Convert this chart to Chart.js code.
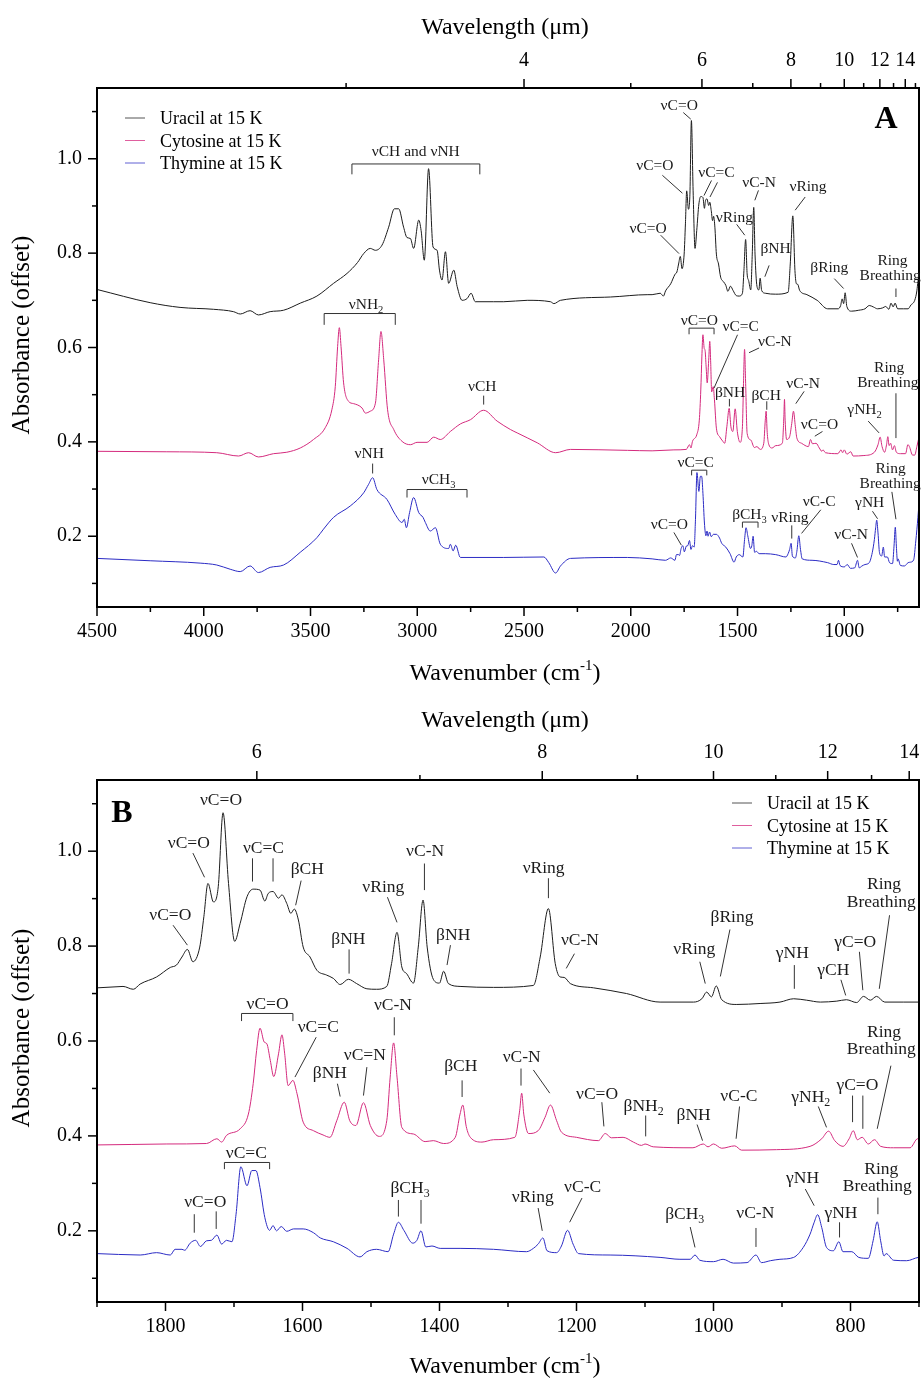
<!DOCTYPE html>
<html>
<head>
<style>
  body { margin: 0; background: #fff; }
  canvas { position: absolute; left: 0; }
  #chartA { top: 0; }
  #chartB { top: 689px; }
</style>
</head>
<body>
<canvas id="chartA" width="921" height="689"></canvas>
<canvas id="chartB" width="921" height="689"></canvas>

<script src="https://cdn.jsdelivr.net/npm/chart.js"></script>
<script>
// spectra: [wavenumber (cm-1), absorbance (offset)]
const uracil = [
  [4500,0.723],[4251,0.695],[4111,0.685],[3955,0.681],[3861,0.676],[3829,0.671],[3783,0.678],[3744,0.669],
  [3689,0.676],[3626,0.679],[3548,0.694],[3470,0.709],[3392,0.736],[3329,0.757],[3280,0.780],[3251,0.799],
  [3220,0.810],[3196,0.806],[3165,0.817],[3134,0.855],[3107,0.894],[3087,0.894],[3064,0.855],[3048,0.833],
  [3032,0.831],[3017,0.810],[2993,0.870],[2982,0.848],[2967,0.785],[2947,0.979],[2926,0.813],[2907,0.806],
  [2896,0.764],[2884,0.743],[2868,0.803],[2853,0.736],[2829,0.764],[2813,0.729],[2790,0.700],[2766,0.704],
  [2748,0.715],[2728,0.697],[2642,0.697],[2595,0.697],[2485,0.700],[2376,0.697],[2360,0.693],[2329,0.700],
  [2095,0.707],[1920,0.712],
  [1900,0.712],[1862,0.715],[1847,0.709],[1837,0.720],[1813,0.735],[1793,0.755],[1784,0.760],[1776,0.777],
  [1768,0.793],[1760,0.767],[1750,0.798],[1744,0.862],[1738,0.932],[1730,0.893],[1723,0.925],[1716,1.081],
  [1708,0.932],[1699,0.810],[1691,0.848],[1681,0.904],[1672,0.920],[1662,0.918],[1655,0.895],[1650,0.911],
  [1643,0.915],[1635,0.901],[1630,0.908],[1623,0.890],[1617,0.869],[1612,0.878],[1606,0.855],[1599,0.798],
  [1589,0.777],[1579,0.749],[1565,0.739],[1555,0.732],[1545,0.719],[1533,0.730],[1521,0.721],[1506,0.710],
  [1492,0.709],[1477,0.715],[1470,0.763],[1462,0.829],[1455,0.756],[1448,0.742],[1438,0.722],[1431,0.798],
  [1424,0.897],[1418,0.798],[1409,0.730],[1400,0.722],[1394,0.747],[1387,0.721],[1370,0.715],[1321,0.713],
  [1263,0.717],[1253,0.777],[1241,0.879],[1231,0.763],[1224,0.735],[1218,0.734],[1209,0.721],[1175,0.712],
  [1127,0.700],[1078,0.682],[1029,0.682],[1017,0.689],[1010,0.703],[1003,0.693],[996,0.716],[988,0.687],
  [966,0.677],[932,0.679],[903,0.682],[883,0.689],[864,0.686],[844,0.682],[820,0.684],[806,0.687],
  [791,0.681],[781,0.694],[771,0.686],[762,0.694],[750,0.682],[723,0.682],[701,0.682],
  [688,0.690],[670,0.700],[660,0.720],[655,0.740],[650,0.750]
];
const cytosine = [
  [4500,0.380],[4173,0.379],[3939,0.377],[3837,0.370],[3790,0.377],[3744,0.368],[3673,0.375],[3611,0.378],
  [3548,0.387],[3486,0.405],[3431,0.430],[3400,0.468],[3384,0.517],[3373,0.602],[3365,0.642],[3357,0.602],
  [3345,0.525],[3322,0.486],[3298,0.481],[3259,0.472],[3243,0.461],[3220,0.465],[3196,0.482],[3181,0.574],
  [3170,0.634],[3157,0.574],[3139,0.468],[3110,0.426],[3071,0.401],[3032,0.394],[3001,0.399],[2954,0.399],
  [2923,0.410],[2892,0.405],[2845,0.422],[2798,0.438],[2751,0.447],[2689,0.467],[2626,0.444],[2563,0.426],
  [2532,0.419],[2438,0.398],[2352,0.377],[2282,0.384],[2016,0.382],
  [1900,0.381],[1798,0.383],[1740,0.384],[1725,0.394],[1718,0.387],[1711,0.401],[1691,0.415],[1679,0.446],
  [1672,0.510],[1667,0.580],[1662,0.627],[1656,0.598],[1652,0.594],[1647,0.559],[1642,0.525],[1635,0.573],
  [1630,0.613],[1626,0.573],[1621,0.506],[1614,0.517],[1608,0.489],[1599,0.429],[1584,0.411],[1570,0.402],
  [1560,0.397],[1550,0.432],[1539,0.471],[1531,0.432],[1522,0.422],[1511,0.470],[1501,0.422],[1488,0.399],
  [1477,0.432],[1472,0.524],[1467,0.596],[1462,0.524],[1455,0.418],[1438,0.404],[1421,0.388],[1409,0.390],
  [1394,0.384],[1377,0.397],[1370,0.446],[1366,0.465],[1361,0.420],[1355,0.397],[1338,0.387],[1321,0.392],
  [1290,0.397],[1283,0.453],[1280,0.490],[1277,0.446],[1270,0.405],[1256,0.411],[1246,0.439],[1238,0.465],
  [1229,0.432],[1222,0.408],[1200,0.397],[1168,0.390],[1158,0.405],[1149,0.396],[1132,0.397],[1117,0.387],
  [1105,0.380],[1100,0.383],[1088,0.377],[1030,0.375],[1015,0.383],[1008,0.377],[1000,0.383],[988,0.374],
  [969,0.379],[959,0.370],[908,0.371],[859,0.378],[842,0.394],[832,0.410],[823,0.390],[811,0.378],
  [802,0.394],[796,0.411],[790,0.392],[783,0.397],[774,0.383],[765,0.392],[756,0.378],[737,0.375],
  [713,0.375],[702,0.394],[695,0.390],[680,0.372],[670,0.372],[660,0.390],[650,0.410]
];
const thymine = [
  [4500,0.153],[4251,0.148],[4017,0.143],[3939,0.139],[3876,0.130],[3829,0.125],[3783,0.137],[3744,0.123],
  [3689,0.134],[3626,0.139],[3548,0.166],[3470,0.197],[3439,0.215],[3392,0.240],[3314,0.264],[3251,0.292],
  [3228,0.310],[3209,0.324],[3189,0.299],[3142,0.278],[3103,0.246],[3071,0.229],[3061,0.236],[3051,0.218],
  [3036,0.250],[3017,0.282],[2993,0.250],[2973,0.240],[2962,0.229],[2939,0.211],[2915,0.218],[2892,0.183],
  [2853,0.174],[2845,0.183],[2832,0.169],[2820,0.181],[2798,0.155],[2595,0.155],[2407,0.156],[2384,0.144],
  [2352,0.122],[2329,0.137],[2282,0.153],[2016,0.155],
  [1900,0.152],[1837,0.149],[1813,0.154],[1793,0.149],[1786,0.161],[1776,0.161],[1772,0.159],[1764,0.174],
  [1756,0.180],[1749,0.167],[1740,0.179],[1733,0.180],[1725,0.191],[1718,0.172],[1711,0.180],[1703,0.177],
  [1697,0.235],[1690,0.335],[1681,0.295],[1674,0.327],[1668,0.327],[1662,0.291],[1655,0.228],[1648,0.201],
  [1643,0.211],[1638,0.200],[1631,0.209],[1623,0.199],[1613,0.204],[1599,0.204],[1584,0.196],[1574,0.185],
  [1555,0.177],[1535,0.163],[1516,0.145],[1506,0.156],[1492,0.161],[1475,0.156],[1467,0.193],[1460,0.218],
  [1452,0.201],[1439,0.174],[1433,0.180],[1427,0.200],[1420,0.166],[1411,0.168],[1399,0.163],[1370,0.163],
  [1321,0.161],[1273,0.156],[1263,0.163],[1256,0.172],[1249,0.185],[1243,0.158],[1229,0.154],[1222,0.168],
  [1213,0.201],[1205,0.172],[1197,0.152],[1151,0.149],[1078,0.144],[1049,0.140],[1034,0.140],[1027,0.149],
  [1020,0.138],[1000,0.135],[986,0.140],[971,0.132],[951,0.133],[938,0.149],[930,0.133],[917,0.137],
  [903,0.140],[883,0.144],[869,0.165],[859,0.193],[853,0.218],[848,0.234],[842,0.207],[835,0.165],
  [825,0.158],[817,0.177],[811,0.156],[798,0.156],[788,0.144],[774,0.142],[767,0.179],[761,0.219],
  [756,0.179],[751,0.147],[748,0.152],[737,0.138],[718,0.137],[701,0.144],
  [690,0.145],[675,0.150],[665,0.190],[655,0.240],[650,0.270]
];
const seriesNames = ['Uracil at 15 K', 'Cytosine at 15 K', 'Thymine at 15 K'];
const seriesColors = ['#1c1c1c', '#d42a7d', '#2b2bc4'];

// axis ticks
const absMajor = [0.2, 0.4, 0.6, 0.8, 1.0];
const absMinor = [0.1, 0.3, 0.5, 0.7, 0.9, 1.1];
const wnMajorA = [4500, 4000, 3500, 3000, 2500, 2000, 1500, 1000];
const wnMinorA = [4250, 3750, 3250, 2750, 2250, 1750, 1250, 750];
const umMajorA = [4, 6, 8, 10, 12, 14];
const umMinorA = [3, 5, 7, 9, 11, 13, 15];
const wnMajorB = [1800, 1600, 1400, 1200, 1000, 800];
const wnMinorB = [1900, 1700, 1500, 1300, 1100, 900, 700];
const umMajorB = [6, 8, 10, 12, 14];
const umMinorB = [7, 9, 11, 13];

// band assignments: [text, wavenumber, absorbance] (text centre, baseline)
const labelsA = [
  ['νCH and νNH', 3007, 1.005], ['νC=O', 1773, 1.104], ['νC=O', 1887, 0.976], ['νC=O', 1919, 0.842],
  ['νC=C', 1599, 0.961], ['νC-N', 1399, 0.941], ['νRing', 1515, 0.866], ['νRing', 1170, 0.931],
  ['βNH', 1322, 0.800], ['βRing', 1070, 0.760], ['Ring', 774, 0.774], ['Breathing', 785, 0.744],
  ['νNH_2', 3240, 0.681], ['νCH', 2696, 0.507], ['νC=O', 1679, 0.648], ['νC=C', 1485, 0.634],
  ['νC-N', 1325, 0.603], ['βNH', 1535, 0.496], ['βCH', 1366, 0.489], ['νC-N', 1193, 0.514],
  ['νC=O', 1116, 0.427], ['γNH_2', 905, 0.458], ['Ring', 790, 0.549], ['Breathing', 796, 0.516],
  ['νNH', 3225, 0.366], ['νCH_3', 2900, 0.310], ['νC=C', 1696, 0.346], ['νC=O', 1819, 0.216],
  ['βCH_3', 1444, 0.236], ['νRing', 1255, 0.230], ['νC-C', 1118, 0.264], ['νC-N', 968, 0.195],
  ['γNH', 881, 0.261], ['Ring', 783, 0.333], ['Breathing', 785, 0.303]
];
const linesA = [
  [1754,1.098,1719,1.084], [1852,0.965,1758,0.927], [1860,0.838,1774,0.799], [1622,0.954,1657,0.922],
  [1594,0.950,1629,0.919], [1402,0.933,1419,0.912], [1504,0.861,1466,0.838], [1183,0.919,1230,0.891],
  [1352,0.774,1372,0.750], [1047,0.746,1003,0.725], [758,0.725,758,0.707], [2689,0.498,2689,0.479],
  [1500,0.627,1610,0.514], [1399,0.599,1446,0.589], [1538,0.491,1538,0.475], [1363,0.486,1363,0.468],
  [1188,0.507,1227,0.481], [1102,0.422,1138,0.412], [888,0.444,837,0.419], [758,0.503,758,0.408],
  [3209,0.354,3209,0.333], [1798,0.208,1763,0.181], [1246,0.223,1246,0.195], [1110,0.256,1200,0.206],
  [966,0.185,938,0.155], [868,0.253,844,0.237], [777,0.294,758,0.236]
];
const bracketsA = [
  [3306,2707,0.989,0.967], [3436,3103,0.672,0.648], [1727,1610,0.641,0.628],
  [3048,2767,0.299,0.282], [1715,1644,0.340,0.329], [1477,1404,0.230,0.218]
];
const labelsB = [
  ['νC=O', 1719, 1.098], ['νC=O', 1766, 1.006], ['νC=O', 1793, 0.855], ['νC=C', 1657, 0.996],
  ['βCH', 1593, 0.951], ['βNH', 1533, 0.805], ['νRing', 1482, 0.913], ['νC-N', 1421, 0.990],
  ['βNH', 1380, 0.812], ['νRing', 1248, 0.953], ['νC-N', 1195, 0.802], ['νRing', 1028, 0.784],
  ['βRing', 973, 0.851], ['γNH', 885, 0.774], ['γCH', 825, 0.739], ['γC=O', 793, 0.798],
  ['Ring', 751, 0.920], ['Breathing', 755, 0.883],
  ['νC=O', 1651, 0.668], ['νC=C', 1577, 0.618], ['βNH', 1560, 0.523], ['νC=N', 1509, 0.559],
  ['νC-N', 1468, 0.665], ['βCH', 1369, 0.536], ['νC-N', 1280, 0.555], ['νC=O', 1170, 0.478],
  ['βNH_2', 1102, 0.453], ['βNH', 1029, 0.434], ['νC-C', 963, 0.473], ['γNH_2', 858, 0.471],
  ['γC=O', 790, 0.496], ['Ring', 751, 0.608], ['Breathing', 755, 0.573],
  ['νC=C', 1682, 0.354], ['νC=O', 1742, 0.251], ['βCH_3', 1443, 0.279], ['νRing', 1264, 0.260],
  ['νC-C', 1191, 0.281], ['βCH_3', 1042, 0.225], ['νC-N', 939, 0.227], ['γNH', 870, 0.300],
  ['γNH', 814, 0.228], ['Ring', 755, 0.320], ['Breathing', 761, 0.284]
];
const linesB = [
  [1760,0.996,1743,0.945], [1789,0.844,1768,0.802], [1673,0.985,1673,0.936], [1643,0.985,1643,0.936],
  [1602,0.938,1610,0.886], [1532,0.793,1532,0.742], [1476,0.903,1462,0.850], [1422,0.974,1422,0.918],
  [1384,0.802,1389,0.760], [1241,0.943,1241,0.901], [1203,0.784,1215,0.753], [1020,0.767,1012,0.721],
  [976,0.835,990,0.736], [882,0.760,882,0.710], [814,0.729,807,0.696], [787,0.788,782,0.707],
  [743,0.865,758,0.710],
  [1580,0.608,1611,0.524], [1549,0.510,1545,0.483], [1506,0.545,1511,0.485], [1466,0.650,1466,0.612],
  [1367,0.517,1367,0.482], [1281,0.542,1281,0.506], [1263,0.539,1239,0.490], [1163,0.471,1160,0.420],
  [1099,0.443,1099,0.399], [1024,0.424,1016,0.390], [962,0.462,967,0.394], [847,0.462,835,0.418],
  [797,0.485,797,0.429], [782,0.485,782,0.415], [741,0.548,761,0.415],
  [1758,0.235,1758,0.196], [1726,0.241,1726,0.204], [1460,0.265,1460,0.230], [1427,0.265,1427,0.215],
  [1256,0.248,1250,0.200], [1192,0.269,1210,0.218], [1034,0.208,1027,0.165], [938,0.206,938,0.166],
  [866,0.288,853,0.253], [816,0.218,816,0.186], [760,0.270,760,0.235]
];
const bracketsB = [
  [1689,1614,0.658,0.642], [1714,1648,0.344,0.330]
];

const FONT = "'Liberation Serif', 'Times New Roman', serif";

function drawRich(ctx, text, cx, by, size) {
  const parts = text.split('_');
  ctx.font = size + 'px ' + FONT;
  const w0 = ctx.measureText(parts[0]).width;
  let w1 = 0;
  if (parts[1]) {
    ctx.font = (size * 0.68) + 'px ' + FONT;
    w1 = ctx.measureText(parts[1]).width;
  }
  const x0 = cx - (w0 + w1) / 2;
  ctx.textAlign = 'left';
  ctx.textBaseline = 'alphabetic';
  ctx.font = size + 'px ' + FONT;
  ctx.fillText(parts[0], x0, by);
  if (parts[1]) {
    ctx.font = (size * 0.68) + 'px ' + FONT;
    ctx.fillText(parts[1], x0 + w0, by + size * 0.22);
  }
}

function makeOverlay(p) {
  return {
    id: 'overlay',
    afterDraw(chart) {
      const ctx = chart.ctx;
      const a = chart.chartArea;
      const sx = chart.scales.x, sy = chart.scales.y;
      const px = v => sx.getPixelForValue(v);
      const py = v => sy.getPixelForValue(v);
      const seg = (x1, y1, x2, y2) => { ctx.beginPath(); ctx.moveTo(x1, y1); ctx.lineTo(x2, y2); ctx.stroke(); };
      ctx.save();

      // frame and tick marks
      ctx.strokeStyle = '#000';
      ctx.lineWidth = 2;
      ctx.strokeRect(a.left, a.top, a.right - a.left, a.bottom - a.top);
      ctx.lineWidth = 1.5;
      p.wnMajor.forEach(v => seg(px(v), a.bottom, px(v), a.bottom + 9));
      p.wnMinor.forEach(v => seg(px(v), a.bottom, px(v), a.bottom + 5));
      p.umMajor.forEach(l => seg(px(10000 / l), a.top, px(10000 / l), a.top - 9));
      p.umMinor.forEach(l => seg(px(10000 / l), a.top, px(10000 / l), a.top - 5));
      absMajor.forEach(v => seg(a.left, py(v), a.left - 9, py(v)));
      absMinor.forEach(v => seg(a.left - 5, py(v), a.left, py(v)));

      // axis titles
      ctx.fillStyle = '#000';
      const cx = (a.left + a.right) / 2 - 3;
      drawRich(ctx, 'Wavelength (μm)', cx, p.topTitleY, 24);
      ctx.font = '24px ' + FONT;
      const t1 = 'Wavenumber (cm', t2 = '-1', t3 = ')';
      const w1 = ctx.measureText(t1).width, w3 = ctx.measureText(t3).width;
      ctx.font = '15px ' + FONT;
      const w2 = ctx.measureText(t2).width;
      let x0 = cx - (w1 + w2 + w3) / 2;
      ctx.textAlign = 'left';
      ctx.font = '24px ' + FONT;
      ctx.fillText(t1, x0, p.bottomTitleY);
      ctx.font = '15px ' + FONT;
      ctx.fillText(t2, x0 + w1, p.bottomTitleY - 10);
      ctx.font = '24px ' + FONT;
      ctx.fillText(t3, x0 + w1 + w2, p.bottomTitleY);
      ctx.save();
      ctx.translate(29, p.yTitleY);
      ctx.rotate(-Math.PI / 2);
      ctx.font = '25px ' + FONT;
      ctx.textAlign = 'center';
      ctx.fillText('Absorbance (offset)', 0, 0);
      ctx.restore();

      // panel letter
      ctx.font = 'bold 32px ' + FONT;
      ctx.textAlign = 'center';
      ctx.fillText(p.letter, p.letterX, p.letterY);

      // legend
      chart.data.datasets.forEach((ds, i) => {
        const ly = p.legendY + i * 22.5;
        ctx.strokeStyle = ds.borderColor;
        ctx.globalAlpha = 0.75;
        ctx.lineWidth = 1;
        seg(p.legendX, ly, p.legendX + 20, ly);
        ctx.globalAlpha = 1;
        ctx.fillStyle = '#000';
        ctx.font = '18px ' + FONT;
        ctx.textAlign = 'left';
        ctx.fillText(ds.label, p.legendX + 35, ly + 6);
      });

      // band assignments
      ctx.fillStyle = '#1a1a1a';
      ctx.strokeStyle = '#333';
      ctx.lineWidth = 1;
      p.labels.forEach(([t, wn, ab]) => drawRich(ctx, t, px(wn), py(ab), p.labelSize));
      p.lines.forEach(([w1_, a1, w2_, a2]) => seg(px(w1_), py(a1), px(w2_), py(a2)));
      p.brackets.forEach(([wl, wr, at, ae]) => {
        ctx.beginPath();
        ctx.moveTo(px(wl), py(ae));
        ctx.lineTo(px(wl), py(at));
        ctx.lineTo(px(wr), py(at));
        ctx.lineTo(px(wr), py(ae));
        ctx.stroke();
      });
      ctx.restore();
    }
  };
}

function makeChart(id, p) {
  const tickFont = { family: FONT, size: 20 };
  const fixPad = s => { s.paddingLeft = 0; s.paddingRight = 0; s.paddingTop = 0; s.paddingBottom = 0; };
  return new Chart(document.getElementById(id), {
    type: 'line',
    data: {
      datasets: [uracil, cytosine, thymine].map((d, i) => ({
        label: seriesNames[i],
        data: d.map(([x, y]) => ({ x, y })),
        borderColor: seriesColors[i],
        borderWidth: 1,
        pointRadius: 0,
        cubicInterpolationMode: 'monotone',
        fill: false
      }))
    },
    options: {
      responsive: false,
      animation: false,
      events: [],
      layout: { padding: { left: 0, right: 2, top: 0, bottom: 0 } },
      plugins: { legend: { display: false }, tooltip: { enabled: false } },
      scales: {
        x: {
          type: 'linear', position: 'bottom', reverse: true, min: p.min, max: p.max,
          grid: { display: false, drawTicks: false }, border: { display: false },
          ticks: { autoSkip: false, maxRotation: 0, padding: 13, font: tickFont, color: '#000',
                   callback: v => String(v) },
          afterBuildTicks: s => { s.ticks = p.wnMajor.map(v => ({ value: v })); },
          afterFit: s => { s.height = p.bottomH; fixPad(s); }
        },
        x2: {
          type: 'linear', position: 'top', reverse: true, min: p.min, max: p.max,
          grid: { display: false, drawTicks: false }, border: { display: false },
          ticks: { autoSkip: false, maxRotation: 0, padding: 15, font: tickFont, color: '#000',
                   callback: v => String(Math.round(10000 / v)) },
          afterBuildTicks: s => { s.ticks = p.umMajor.map(l => ({ value: 10000 / l })); },
          afterFit: s => { s.height = p.topH; fixPad(s); }
        },
        y: {
          type: 'linear', position: 'left', min: 0.05, max: 1.15,
          grid: { display: false, drawTicks: false }, border: { display: false },
          ticks: { padding: 15, font: tickFont, color: '#000', callback: v => v.toFixed(1) },
          afterBuildTicks: s => { s.ticks = absMajor.map(v => ({ value: v })); },
          afterFit: s => { s.width = 97; fixPad(s); }
        }
      }
    },
    plugins: [makeOverlay(p)]
  });
}

makeChart('chartA', {
  min: 650, max: 4500, topH: 88, bottomH: 82,
  wnMajor: wnMajorA, wnMinor: wnMinorA, umMajor: umMajorA, umMinor: umMinorA,
  topTitleY: 34, bottomTitleY: 680, yTitleY: 335,
  letter: 'A', letterX: 886, letterY: 128,
  legendX: 125, legendY: 118,
  labels: labelsA, lines: linesA, brackets: bracketsA, labelSize: 15.5
});

makeChart('chartB', {
  min: 700, max: 1900, topH: 91, bottomH: 76,
  wnMajor: wnMajorB, wnMinor: wnMinorB, umMajor: umMajorB, umMinor: umMinorB,
  topTitleY: 38, bottomTitleY: 684, yTitleY: 339,
  letter: 'B', letterX: 122, letterY: 133,
  legendX: 732, legendY: 114,
  labels: labelsB, lines: linesB, brackets: bracketsB, labelSize: 17.5
});
</script>
</body>
</html>
